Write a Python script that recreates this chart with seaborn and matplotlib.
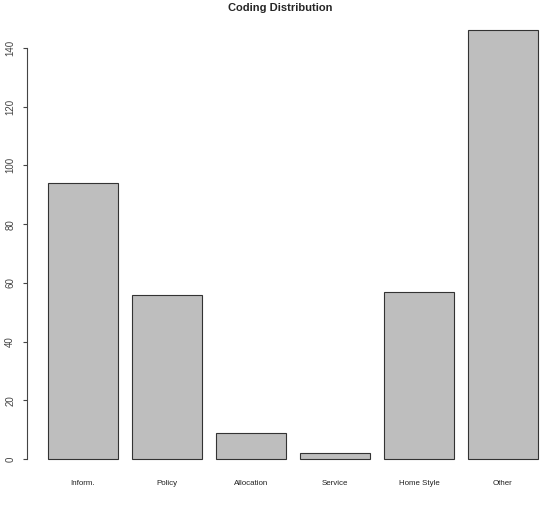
"""
Coding distribution bar chart (R base-graphics look).
"""

import matplotlib
matplotlib.use("Agg")
import matplotlib.pyplot as plt
import pandas as pd
import seaborn as sns

categories = ["Inform.", "Policy", "Allocation", "Service", "Home Style", "Other"]
counts = [94, 56, 9, 2, 57, 146]
y_ticks = [0, 20, 40, 60, 80, 100, 120, 140]

df = pd.DataFrame({"category": categories, "count": counts})

sns.set_style("white")
plt.rcParams["font.family"] = ["Liberation Sans", "DejaVu Sans"]

W, H = 545, 513
fig = plt.figure(figsize=(W / 100, H / 100), dpi=100)

# axes placement in pixels (y axis line at x=27, y=0 at 459, y=140 at 48)
left_px = 27
bottom_px, top_px = 476.14, 13.24
ax = fig.add_axes([left_px / W, (H - bottom_px) / H,
                   (W - left_px) / W, (bottom_px - top_px) / H])

sns.barplot(data=df, x="category", y="count", ax=ax, color="#bebebe",
            saturation=1, width=70 / 84, edgecolor="#333333", linewidth=0.8)

ax.set_xlim(-56 / 84, (W - 83) / 84)
ax.set_ylim(-5.84, 151.84)

for side in ["top", "right", "bottom"]:
    ax.spines[side].set_visible(False)
ax.spines["left"].set_bounds(0, 140)
ax.spines["left"].set_color("#444444")
ax.spines["left"].set_linewidth(0.8)

ax.set_yticks(y_ticks)
ax.set_yticklabels([str(t) for t in y_ticks], rotation=90, va="center",
                   fontsize=7, color="#444444")
ax.tick_params(axis="y", direction="out", length=3, width=0.8,
               color="#444444", pad=5.5, left=True)
ax.tick_params(axis="x", length=0, pad=3, labelsize=5.7, labelcolor="#222222")

ax.set_xlabel("")
ax.set_ylabel("")

fig.text(280.5 / W, 1 - 8 / H, "Coding Distribution", ha="center", va="center",
         fontsize=8, fontweight="bold")

fig.savefig("out.png", dpi=100)
plt.close(fig)
